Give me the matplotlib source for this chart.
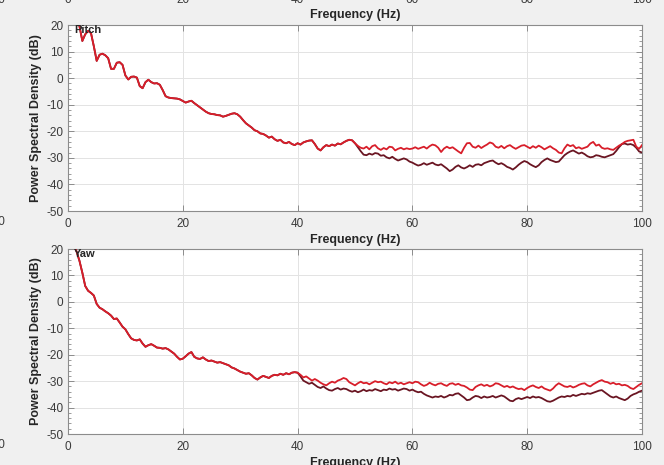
import numpy as np
import matplotlib
matplotlib.use('Agg')
import matplotlib.pyplot as plt
from matplotlib.ticker import MultipleLocator

plt.rcParams['font.family'] = ['Liberation Sans', 'DejaVu Sans']
plt.rcParams['axes.unicode_minus'] = False

# ---------------- data (dB, sampled every 0.5 Hz) ----------------
step_hz = 0.5

pitch_common = [  # 0 .. 50 Hz (both series overlap)
    28, 27, 25.5, 23, 19.5, 14, 16.5, 17.8, 17, 12,
    6.5, 8.8, 9.2, 8.6, 7.5, 3.5, 3.5, 5.8, 6.0, 5.0,
    1.0, -0.5, 0.5, 0.6, 0.2, -3.0, -3.8, -1.5, -0.6, -1.5,
    -2.0, -1.9, -2.5, -4.5, -6.8, -7.3, -7.5, -7.6, -7.7, -8.0,
    -8.6, -9.2, -8.8, -8.5, -9.4, -10.2, -11.0, -11.8, -12.6, -13.2,
    -13.5, -13.6, -13.9, -14.0, -14.5, -14.2, -13.8, -13.4, -13.2, -13.6,
    -14.5, -15.8, -17.0, -17.8, -18.6, -19.6, -20.0, -20.8, -21.0, -21.6,
    -22.4, -22.0, -23.0, -23.6, -23.2, -24.2, -24.5, -24.0, -24.8, -25.2,
    -24.5, -25.0, -24.2, -23.8, -23.5, -23.4, -24.8, -26.5, -27.2, -26.0,
    -25.2, -25.6, -25.0, -25.4, -24.6, -24.9, -24.2, -23.6, -23.2, -23.4,
    -24.5,
]
pitch_light_tail = [  # 50.5 .. 100 Hz
    -25.5, -26.2, -26.5, -25.8, -26.8, -25.6, -25.2, -26.4, -27.0, -26.3,
    -26.8, -25.8, -26.0, -27.2, -26.6, -26.2, -26.8, -26.4, -26.7, -26.5,
    -26.0, -26.6, -26.2, -25.8, -26.5, -25.6, -25.0, -25.3, -26.2, -27.8,
    -26.5, -25.8, -26.4, -26.0, -26.8, -27.6, -28.3, -26.2, -24.5, -24.4,
    -25.8, -26.2, -25.4, -26.3, -25.6, -25.0, -24.2, -24.6, -25.8, -26.2,
    -25.5, -26.4, -25.6, -25.2, -26.0, -26.6, -26.0, -25.4, -25.2, -25.8,
    -26.4, -25.6, -26.2, -25.4, -26.0, -26.8, -26.2, -25.6, -26.4, -27.0,
    -28.0, -28.3, -26.4, -25.0, -25.6, -25.2, -26.4, -26.0, -26.6, -26.2,
    -25.8, -24.6, -24.0, -25.4, -25.0, -26.2, -26.6, -26.4, -26.8, -27.0,
    -26.2, -25.4, -24.8, -24.0, -23.6, -23.4, -23.2, -25.8, -26.6, -25.2,
]
pitch_dark_tail = [  # 50.5 .. 100 Hz
    -26.0, -27.5, -28.8, -29.0, -28.4, -28.8, -28.2, -28.4, -29.2, -29.0,
    -29.8, -30.2, -29.6, -30.4, -31.0, -30.6, -30.2, -30.6, -31.4, -31.8,
    -32.4, -32.9, -32.6, -32.0, -32.6, -32.2, -31.8, -32.5, -32.8, -32.4,
    -33.2, -34.0, -35.0, -34.4, -33.4, -32.8, -33.6, -34.0, -33.5, -32.8,
    -33.4, -32.6, -32.4, -32.8, -32.0, -31.6, -31.2, -31.0, -31.8, -32.4,
    -32.0, -32.6, -33.4, -33.8, -34.4, -33.6, -32.6, -31.8, -31.2, -31.6,
    -32.4, -33.0, -33.5, -32.8, -31.6, -30.8, -30.2, -30.8, -31.2, -31.6,
    -31.4, -30.2, -29.0, -28.2, -27.6, -27.2, -27.8, -28.4, -28.0, -28.6,
    -29.4, -29.8, -29.6, -29.0, -29.2, -29.6, -29.8, -29.4, -29.0, -28.6,
    -27.4, -26.0, -24.8, -24.6, -25.0, -24.8, -25.2, -26.2, -27.6, -28.0,
]

yaw_common = [  # 0 .. 40 Hz
    24, 23, 21.5, 19, 15.5, 11, 6, 4.2, 3.4, 2.4,
    -0.8, -2.2, -2.8, -3.6, -4.3, -5.2, -6.5, -6.3, -7.8, -9.4,
    -10.4, -12.2, -13.8, -14.4, -14.6, -14.2, -15.8, -17.0, -16.4, -16.0,
    -16.6, -17.3, -17.4, -17.7, -17.5, -18.0, -18.8, -19.6, -20.8, -21.8,
    -21.5, -20.6, -19.6, -19.0, -20.8, -21.4, -21.6, -21.0, -21.8, -22.4,
    -22.2, -22.6, -23.0, -22.8, -23.2, -23.6, -24.0, -24.8, -25.2, -25.8,
    -26.4, -26.8, -27.2, -27.0, -27.8, -28.8, -29.4, -28.6, -28.0, -28.4,
    -28.8, -28.0, -27.6, -27.8, -27.2, -27.6, -27.0, -27.4, -26.8, -26.6,
    -26.8,
]
yaw_light_tail = [  # 40.5 .. 100 Hz
    -27.6, -28.6, -28.2, -29.0, -29.8, -29.2, -29.8, -30.6, -31.2, -31.6,
    -30.8, -30.2, -30.6, -29.8, -29.4, -28.8, -29.2, -30.4, -31.0, -31.6,
    -30.8, -30.2, -30.8, -30.6, -31.2, -30.6, -30.0, -30.4, -30.2, -30.8,
    -31.2, -30.4, -30.8, -30.2, -31.0, -30.6, -31.2, -30.8, -30.4, -30.8,
    -30.2, -30.4, -31.2, -31.8, -31.4, -30.6, -31.2, -31.6, -31.0, -30.8,
    -31.4, -31.8, -31.0, -30.8, -31.4, -31.0, -31.6, -31.8, -32.4, -33.2,
    -33.4, -32.2, -31.6, -31.2, -31.8, -31.4, -32.0, -31.6, -30.8, -31.0,
    -31.6, -32.2, -31.8, -32.4, -32.0, -32.6, -33.0, -32.8, -33.4, -32.6,
    -32.0, -31.6, -32.2, -32.6, -32.0, -32.8, -33.2, -33.6, -32.8, -31.6,
    -30.8, -31.4, -32.0, -32.2, -31.8, -32.4, -32.0, -31.4, -31.0, -30.8,
    -31.6, -32.0, -31.2, -30.6, -30.0, -29.6, -30.2, -30.4, -31.0, -30.6,
    -31.2, -31.0, -31.6, -31.4, -31.8, -32.6, -33.0, -32.2, -31.4, -30.8,
]
yaw_dark_tail = [  # 40.5 .. 100 Hz
    -28.2, -29.8, -30.4, -31.0, -30.6, -31.4, -32.2, -32.6, -32.0, -32.8,
    -33.4, -33.6, -33.0, -32.6, -33.2, -32.8, -33.0, -33.6, -34.0, -33.6,
    -34.2, -33.8, -33.2, -33.8, -33.4, -33.6, -33.0, -33.4, -33.8, -33.2,
    -33.4, -32.8, -33.2, -33.0, -33.6, -33.2, -32.8, -33.0, -33.6, -33.2,
    -33.8, -34.2, -34.0, -34.8, -35.4, -35.8, -36.2, -35.8, -36.0, -35.6,
    -36.2, -35.8, -35.2, -35.4, -34.8, -34.6, -35.4, -36.2, -37.2, -37.0,
    -36.2, -35.6, -35.8, -36.4, -35.8, -36.2, -36.0, -35.6, -36.2, -35.8,
    -35.4, -35.8, -36.6, -37.4, -37.6, -36.8, -36.4, -36.8, -36.4, -36.0,
    -36.4, -35.8, -36.2, -36.0, -36.4, -37.0, -37.6, -37.8, -37.4, -36.8,
    -36.2, -35.8, -36.0, -35.6, -35.8, -35.2, -35.6, -35.2, -34.8, -35.0,
    -34.6, -34.8, -34.4, -34.0, -33.6, -33.4, -34.2, -35.0, -35.8, -36.2,
    -35.8, -36.4, -36.8, -37.2, -36.6, -35.6, -35.0, -34.6, -34.0, -33.6,
]

pitch_light = pitch_common + pitch_light_tail
pitch_dark = pitch_common + pitch_dark_tail
yaw_light = yaw_common + yaw_light_tail
yaw_dark = yaw_common + yaw_dark_tail

panel_titles = ['Pitch', 'Yaw']
x_ticks = [0, 20, 40, 60, 80, 100]
y_ticks = [-50, -40, -30, -20, -10, 0, 10, 20]
x_label = 'Frequency (Hz)'
y_label = 'Power Spectral Density (dB)'

# ---------------- style ----------------
LIGHT = '#d81e2a'
DARK = '#6a1522'
BG = '#f0f0f0'
TXT = '#262626'
TICKTXT = '#3a3a3a'

W, H = 664, 465
fig = plt.figure(figsize=(W / 100, H / 100), dpi=100, facecolor=BG)


def rect(l, t, r, b):
    return [l / W, 1 - b / H, (r - l) / W, (b - t) / H]


ax1 = fig.add_axes(rect(68, 25, 642, 211))
ax2 = fig.add_axes(rect(68, 249, 642, 434))


def style(ax, title, light, dark):
    fl = np.arange(len(light)) * step_hz
    fd = np.arange(len(dark)) * step_hz
    ax.plot(fd, dark, color=DARK, lw=1.3, zorder=3)
    ax.plot(fl, light, color=LIGHT, lw=1.3, zorder=4)
    ax.set_xlim(0, 100)
    ax.set_ylim(-50, 20)
    ax.set_xticks(x_ticks)
    ax.set_yticks(y_ticks)
    ax.yaxis.set_minor_locator(MultipleLocator(2))
    ax.grid(True, which='major', color='#e3e3e3', lw=0.7)
    ax.set_axisbelow(True)
    ax.set_facecolor('white')
    for s in ax.spines.values():
        s.set_color('#8c8c8c')
        s.set_linewidth(0.8)
    ax.tick_params(which='both', direction='in', top=True, right=True,
                   color='#8c8c8c', labelcolor=TICKTXT, labelsize=8.5)
    ax.tick_params(which='major', length=4, width=0.7)
    ax.tick_params(which='minor', length=2, width=0.6)
    ax.tick_params(axis='x', pad=5)
    ax.tick_params(axis='y', pad=3.5)
    ax.set_xlabel(x_label, fontsize=9, fontweight='bold', color=TXT, labelpad=3)
    ax.set_ylabel(y_label, fontsize=9, fontweight='bold', color=TXT, labelpad=3)
    ax.text(0.011, 1.0, title, transform=ax.transAxes, ha='left', va='top',
            fontsize=8, fontweight='bold', color=TXT, zorder=5)


style(ax1, panel_titles[0], pitch_light, pitch_dark)
style(ax2, panel_titles[1], yaw_light, yaw_dark)

# fragments of neighbouring subplots cut by the screenshot edges
for xt in x_ticks:
    px = 68 + (642 - 68) * xt / 100
    fig.text(px / W, 1 - 3 / H, str(xt), ha='center', va='baseline',
             fontsize=8.5, color=TICKTXT)
fig.text(5 / W, 1 - 3 / H, '100', ha='right', va='baseline',
         fontsize=8.5, color=TICKTXT)
fig.text((68 + 642) / 2 / W, 1 - 15 / H, x_label, ha='center', va='center',
         fontsize=9, fontweight='bold', color=TXT)
for yy in (222, 445):
    fig.text(5 / W, 1 - yy / H, '100', ha='right', va='center',
             fontsize=8.5, color=TICKTXT)

fig.savefig('out.png', dpi=100, facecolor=BG)
